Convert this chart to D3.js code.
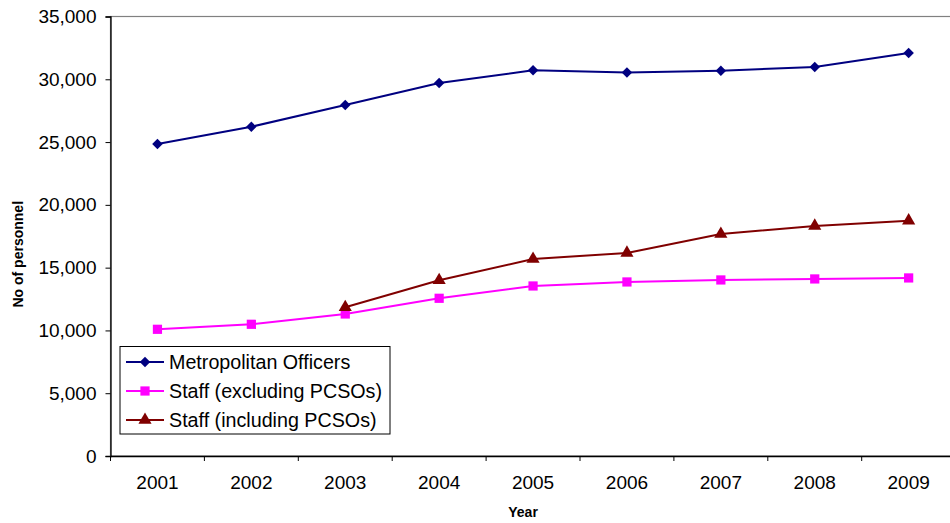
<!DOCTYPE html>
<html>
<head>
<meta charset="utf-8">
<script src="https://cdn.jsdelivr.net/npm/d3@7"></script>
<style>
body { margin: 0; background: #fff; }
svg { display: block; font-family: Arial, "Liberation Sans", sans-serif; }
</style>
</head>
<body>
<svg id="chart" width="950" height="523"></svg>
<script>
const years = ["2001", "2002", "2003", "2004", "2005", "2006", "2007", "2008", "2009"];
const officers = [24850, 26220, 27950, 29700, 30720, 30540, 30680, 30980, 32090];
const staffExcl = [10090, 10490, 11310, 12560, 13540, 13860, 14020, 14100, 14180];
const staffIncl = [null, null, 11840, 13990, 15690, 16170, 17680, 18320, 18740];
const yTicks = [0, 5000, 10000, 15000, 20000, 25000, 30000, 35000];

const series = [
    { name: "Metropolitan Officers", values: officers, color: "#000080", shape: d3.symbolSquare, size: 55, rotate: 45 },
    { name: "Staff (excluding PCSOs)", values: staffExcl, color: "#ff00ff", shape: d3.symbolSquare, size: 85, rotate: 0 },
    { name: "Staff (including PCSOs)", values: staffIncl, color: "#800000", shape: d3.symbolTriangle, size: 75, rotate: 0 }
];

const width = 950, height = 523;
const margin = { top: 16.5, left: 110.5, bottom: 456 };
const plotRight = 110.5 + 9 * 93.9;

const svg = d3.select("#chart");

const x = d3.scaleBand()
    .domain(years)
    .range([margin.left, plotRight]);

const y = d3.scaleLinear()
    .domain([0, 35000])
    .range([margin.bottom, margin.top]);

// plot area border (grey)
svg.append("rect")
    .attr("x", margin.left)
    .attr("y", margin.top)
    .attr("width", plotRight - margin.left)
    .attr("height", margin.bottom - margin.top)
    .attr("fill", "none")
    .attr("stroke", "#808080")
    .attr("stroke-width", 1.2);

// axes
const gy = svg.append("g")
    .attr("transform", `translate(${margin.left},0)`)
    .call(d3.axisLeft(y).tickValues(yTicks).tickSize(5).tickPadding(9).tickFormat(d3.format(",")));

const gx = svg.append("g")
    .attr("transform", `translate(0,${margin.bottom})`)
    .call(d3.axisBottom(x).tickSize(0).tickPadding(20));

// category boundary ticks
gx.selectAll(".boundary")
    .data(d3.range(years.length + 1))
    .join("line")
    .attr("class", "boundary")
    .attr("x1", i => margin.left + i * x.step())
    .attr("x2", i => margin.left + i * x.step())
    .attr("y1", 0)
    .attr("y2", 5)
    .attr("stroke", "#000");

svg.selectAll(".domain").attr("stroke", "#000").attr("stroke-width", 1.3);
svg.selectAll(".tick line").attr("stroke", "#000");
svg.selectAll(".tick text")
    .attr("font-size", 19)
    .attr("fill", "#000")
    .attr("font-family", "Arial, 'Liberation Sans', sans-serif");

// axis titles
svg.append("text")
    .attr("x", (margin.left + plotRight) / 2 - 10)
    .attr("y", 517)
    .attr("text-anchor", "middle")
    .attr("font-weight", "bold")
    .attr("font-size", 14)
    .text("Year");

svg.append("text")
    .attr("transform", `translate(23,${(margin.top + margin.bottom) / 2 + 18}) rotate(-90)`)
    .attr("text-anchor", "middle")
    .attr("font-weight", "bold")
    .attr("font-size", 14)
    .text("No of personnel");

// lines and markers
const cx = d => x(d) + x.bandwidth() / 2;
const line = d3.line()
    .defined(d => d.v != null)
    .x(d => cx(d.year))
    .y(d => y(d.v));

series.forEach(s => {
    const pts = years.map((yr, i) => ({ year: yr, v: s.values[i] }));
    svg.append("path")
        .datum(pts)
        .attr("d", line)
        .attr("fill", "none")
        .attr("stroke", s.color)
        .attr("stroke-width", 2);
    svg.append("g")
        .selectAll("path")
        .data(pts.filter(d => d.v != null))
        .join("path")
        .attr("transform", d => `translate(${cx(d.year)},${y(d.v)}) rotate(${s.rotate})`)
        .attr("d", d3.symbol().type(s.shape).size(s.size))
        .attr("fill", s.color);
});

// legend
const legend = svg.append("g");
legend.append("rect")
    .attr("x", 120)
    .attr("y", 346.5)
    .attr("width", 270)
    .attr("height", 87.5)
    .attr("fill", "#fff")
    .attr("stroke", "#000")
    .attr("stroke-width", 1);

series.forEach((s, i) => {
    const ly = 362 + i * 29;
    legend.append("line")
        .attr("x1", 126).attr("x2", 164)
        .attr("y1", ly).attr("y2", ly)
        .attr("stroke", s.color)
        .attr("stroke-width", 2);
    legend.append("path")
        .attr("transform", `translate(145,${ly}) rotate(${s.rotate})`)
        .attr("d", d3.symbol().type(s.shape).size(s.size))
        .attr("fill", s.color);
    legend.append("text")
        .attr("x", 169)
        .attr("y", ly)
        .attr("dy", "0.35em")
        .attr("font-size", 19.7)
        .text(s.name);
});
</script>
</body>
</html>
